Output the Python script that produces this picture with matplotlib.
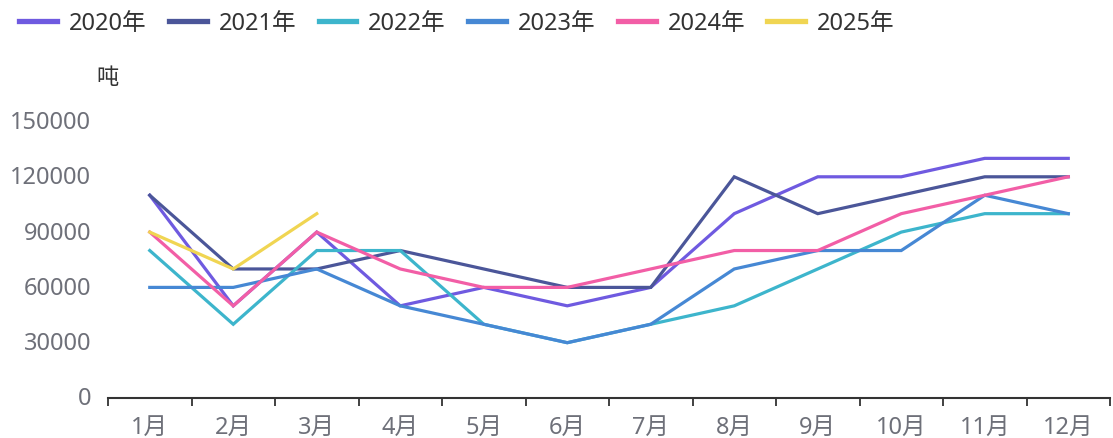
import matplotlib
matplotlib.use("Agg")
import matplotlib.pyplot as plt
import matplotlib.transforms as mtransforms
import numpy as np

FAM = ['Noto Sans', 'Noto Sans CJK SC', 'DejaVu Sans']
plt.rcParams['font.family'] = FAM

months = ["1月", "2月", "3月", "4月", "5月", "6月", "7月", "8月", "9月", "10月", "11月", "12月"]
y2020 = [110000, 50000, 90000, 50000, 60000, 50000, 60000, 100000, 120000, 120000, 130000, 130000]
y2021 = [110000, 70000, 70000, 80000, 70000, 60000, 60000, 120000, 100000, 110000, 120000, 120000]
y2022 = [80000, 40000, 80000, 80000, 40000, 30000, 40000, 50000, 70000, 90000, 100000, 100000]
y2023 = [60000, 60000, 70000, 50000, 40000, 30000, 40000, 70000, 80000, 80000, 110000, 100000]
y2024 = [90000, 50000, 90000, 70000, 60000, 60000, 70000, 80000, 80000, 100000, 110000, 120000]
y2025 = [90000, 70000, 100000]
series_names = ["2020年", "2021年", "2022年", "2023年", "2024年", "2025年"]
colors = ["#6f5ae0", "#4b5699", "#3db5cc", "#4688d4", "#f25ea6", "#f0d552"]
yticks = [0, 30000, 60000, 90000, 120000, 150000]

W, H = 1113, 439
fig = plt.figure(figsize=(W / 100, H / 100), dpi=100)
ax = fig.add_axes([108 / W, (H - 399) / H, (1110 - 108) / W, (399 - 122.5) / H])

x = np.arange(len(months))
data = [y2020, y2021, y2022, y2023, y2024, y2025]
handles = []
for name, vals, c in zip(series_names, data, colors):
    h, = ax.plot(x[:len(vals)], vals, color=c, lw=2.3, label=name, solid_joinstyle='miter')
    handles.append(h)

ax.set_xlim(-0.5, len(months) - 0.5)
ax.set_ylim(0, 150000)
ax.set_yticks(yticks)
ax.set_yticklabels([str(v) for v in yticks], fontsize=17, color="#6e7079")
ax.tick_params(axis='y', length=0, pad=12)
shift = mtransforms.ScaledTranslation(0, 2.5 / 100, fig.dpi_scale_trans)
for lab in ax.get_yticklabels():
    lab.set_transform(lab.get_transform() + shift)

bounds = np.arange(-0.5, len(months))
ax.set_xticks(bounds, minor=False)
ax.set_xticklabels([""] * len(bounds))
ax.tick_params(axis='x', which='major', length=6, width=1.3, color="#333333", direction='out')
ax.set_xticks(x, minor=True)
ax.set_xticklabels(months, minor=True, fontsize=17, color="#6e7079")
ax.tick_params(axis='x', which='minor', length=0, pad=12)

for s in ['top', 'right', 'left']:
    ax.spines[s].set_visible(False)
ax.spines['bottom'].set_color("#333333")
ax.spines['bottom'].set_linewidth(1.5)

fig.text(108 / W, (H - 78) / H, "吨", fontsize=16, color="#333333", ha='center', va='center')

leg = fig.legend(handles=handles, loc='upper left', bbox_to_anchor=(-2 / W, 1.0 + 9 / H), ncol=6,
                 frameon=False, fontsize=17, handlelength=1.6, handletextpad=0.5,
                 columnspacing=0.95, labelcolor="#333333")
for lh in leg.get_lines():
    lh.set_linewidth(3.8)

fig.savefig("out.png", dpi=100)
